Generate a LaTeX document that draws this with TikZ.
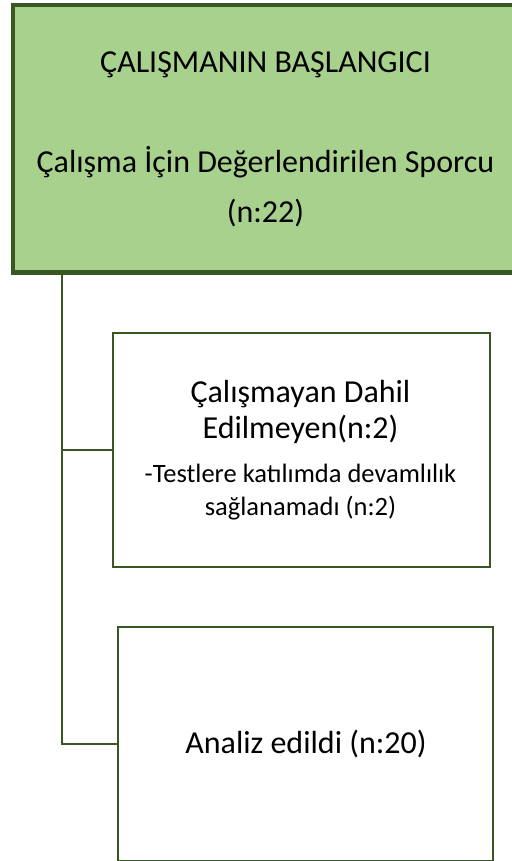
\documentclass[tikz,border=0pt]{standalone}
\usepackage{fontspec}
\setmainfont{Carlito}
\definecolor{boxgreen}{HTML}{A9D18E}
\definecolor{darkgreen}{HTML}{385723}
\begin{document}
\begin{tikzpicture}[x=1pt,y=-1pt,
  topbox/.style={draw=darkgreen,line width=4.5pt,fill=boxgreen,rectangle,inner sep=0pt,anchor=north west},
  subbox/.style={draw=darkgreen,line width=2.2pt,fill=white,rectangle,inner sep=0pt,anchor=north west},
  maintext/.style={anchor=base,inner sep=0pt,font=\fontsize{32}{38}\selectfont},
  subtext/.style={anchor=base,inner sep=0pt,font=\fontsize{26.5}{32}\selectfont},
  conn/.style={draw=darkgreen,line width=2.4pt}]
\useasboundingbox (0,0) rectangle (511,861);
\node[topbox,minimum width=506pt,minimum height=267pt] (top) at (10.5,3) {};
\node[maintext] (t1) at (265.5,73) {ÇALIŞMANIN BAŞLANGICI};
\node[maintext] (t2) at (265.5,172) {Çalışma İçin Değerlendirilen Sporcu};
\node[maintext] (t3) at (265.5,222) {(n:22)};
\node[subbox,minimum width=377pt,minimum height=234pt] (b2) at (112,332) {};
\node[maintext] (m1) at (300.5,402) {Çalışmayan Dahil};
\node[maintext] (m2) at (300.5,438) {Edilmeyen(n:2)};
\node[subtext] (s1) at (300.5,482) {-Testlere katılımda devamlılık};
\node[subtext] (s2) at (300.5,515) {sağlanamadı (n:2)};
\node[subbox,minimum width=375pt,minimum height=234pt] (b3) at (117,626) {};
\node[maintext] (a1) at (306,753) {Analiz edildi (n:20)};
\coordinate (v) at (62,271);
\draw[conn] (v) |- (b2.west);
\draw[conn] (v) |- (b3.west);
\end{tikzpicture}
\end{document}
